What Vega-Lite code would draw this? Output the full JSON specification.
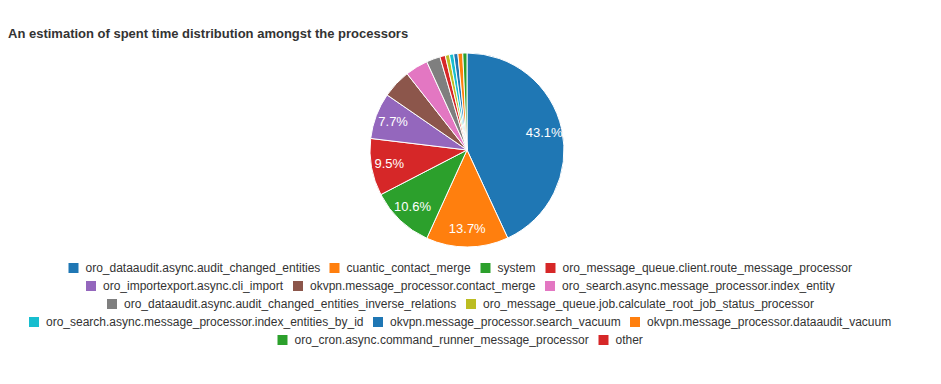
{
  "$schema": "https://vega.github.io/schema/vega-lite/v6.json",
  "width": 904,
  "height": 194,
  "padding": {"left": 8, "top": 28, "right": 0, "bottom": 12},
  "background": "white",
  "title": {
    "text": "An estimation of spent time distribution amongst the processors",
    "anchor": "start",
    "font": "Liberation Sans",
    "fontSize": 13,
    "fontWeight": "bold",
    "color": "#333333",
    "offset": 10
  },
  "data": {
    "values": [
      {"name": "oro_dataaudit.async.audit_changed_entities", "value": 0.431, "rank": 1},
      {"name": "cuantic_contact_merge", "value": 0.137, "rank": 2},
      {"name": "system", "value": 0.106, "rank": 3},
      {"name": "oro_message_queue.client.route_message_processor", "value": 0.095, "rank": 4},
      {"name": "oro_importexport.async.cli_import", "value": 0.077, "rank": 5},
      {"name": "okvpn.message_processor.contact_merge", "value": 0.048, "rank": 6},
      {"name": "oro_search.async.message_processor.index_entity", "value": 0.038, "rank": 7},
      {"name": "oro_dataaudit.async.audit_changed_entities_inverse_relations", "value": 0.023, "rank": 8},
      {"name": "other", "value": 0.009, "rank": 9},
      {"name": "oro_message_queue.job.calculate_root_job_status_processor", "value": 0.007, "rank": 10},
      {"name": "oro_search.async.message_processor.index_entities_by_id", "value": 0.007, "rank": 11},
      {"name": "okvpn.message_processor.search_vacuum", "value": 0.007, "rank": 12},
      {"name": "okvpn.message_processor.dataaudit_vacuum", "value": 0.008, "rank": 13},
      {"name": "oro_cron.async.command_runner_message_processor", "value": 0.007, "rank": 14}
    ]
  },
  "layer": [
    {
      "mark": {"type": "arc", "stroke": "white", "strokeWidth": 1, "xOffset": 7},
      "encoding": {
        "theta": {"field": "value", "type": "quantitative", "stack": true},
        "order": {"field": "rank", "type": "quantitative"},
        "color": {
          "field": "name",
          "type": "nominal",
          "legend": null,
          "scale": {
            "domain": [
              "oro_dataaudit.async.audit_changed_entities",
              "cuantic_contact_merge",
              "system",
              "oro_message_queue.client.route_message_processor",
              "oro_importexport.async.cli_import",
              "okvpn.message_processor.contact_merge",
              "oro_search.async.message_processor.index_entity",
              "oro_dataaudit.async.audit_changed_entities_inverse_relations",
              "oro_message_queue.job.calculate_root_job_status_processor",
              "oro_search.async.message_processor.index_entities_by_id",
              "okvpn.message_processor.search_vacuum",
              "okvpn.message_processor.dataaudit_vacuum",
              "oro_cron.async.command_runner_message_processor",
              "other"
            ],
            "range": ["#1f77b4", "#ff7f0e", "#2ca02c", "#d62728", "#9467bd", "#8c564b", "#e377c2", "#7f7f7f", "#bcbd22", "#17becf", "#1f77b4", "#ff7f0e", "#2ca02c", "#d62728"]
          }
        }
      }
    },
    {
      "mark": {"type": "text", "radius": 79, "xOffset": 7, "fill": "white", "font": "Liberation Sans", "fontSize": 13},
      "encoding": {
        "theta": {"field": "value", "type": "quantitative", "stack": true},
        "order": {"field": "rank", "type": "quantitative"},
        "text": {"condition": {"test": "datum.value < 0.05", "value": ""}, "field": "value", "type": "quantitative", "format": ".1%"}
      }
    },
    {
      "transform": [{"filter": {"field": "name", "oneOf": ["oro_dataaudit.async.audit_changed_entities", "cuantic_contact_merge", "system", "oro_message_queue.client.route_message_processor"]}}],
      "mark": {"type": "point", "filled": true, "opacity": 0},
      "encoding": {
        "color": {"field": "name", "type": "nominal",
          "scale": {"domain": ["oro_dataaudit.async.audit_changed_entities", "cuantic_contact_merge", "system", "oro_message_queue.client.route_message_processor"], "range": ["#1f77b4", "#ff7f0e", "#2ca02c", "#d62728"]},
          "legend": {"title": null, "orient": "bottom", "direction": "horizontal"}}
      }
    },
    {
      "transform": [{"filter": {"field": "name", "oneOf": ["oro_importexport.async.cli_import", "okvpn.message_processor.contact_merge", "oro_search.async.message_processor.index_entity"]}}],
      "mark": {"type": "point", "filled": true, "opacity": 0},
      "encoding": {
        "color": {"field": "name", "type": "nominal",
          "scale": {"domain": ["oro_importexport.async.cli_import", "okvpn.message_processor.contact_merge", "oro_search.async.message_processor.index_entity"], "range": ["#9467bd", "#8c564b", "#e377c2"]},
          "legend": {"title": null, "orient": "bottom", "direction": "horizontal"}}
      }
    },
    {
      "transform": [{"filter": {"field": "name", "oneOf": ["oro_dataaudit.async.audit_changed_entities_inverse_relations", "oro_message_queue.job.calculate_root_job_status_processor"]}}],
      "mark": {"type": "point", "filled": true, "opacity": 0},
      "encoding": {
        "color": {"field": "name", "type": "nominal",
          "scale": {"domain": ["oro_dataaudit.async.audit_changed_entities_inverse_relations", "oro_message_queue.job.calculate_root_job_status_processor"], "range": ["#7f7f7f", "#bcbd22"]},
          "legend": {"title": null, "orient": "bottom", "direction": "horizontal"}}
      }
    },
    {
      "transform": [{"filter": {"field": "name", "oneOf": ["oro_search.async.message_processor.index_entities_by_id", "okvpn.message_processor.search_vacuum", "okvpn.message_processor.dataaudit_vacuum"]}}],
      "mark": {"type": "point", "filled": true, "opacity": 0},
      "encoding": {
        "color": {"field": "name", "type": "nominal",
          "scale": {"domain": ["oro_search.async.message_processor.index_entities_by_id", "okvpn.message_processor.search_vacuum", "okvpn.message_processor.dataaudit_vacuum"], "range": ["#17becf", "#1f77b4", "#ff7f0e"]},
          "legend": {"title": null, "orient": "bottom", "direction": "horizontal"}}
      }
    },
    {
      "transform": [{"filter": {"field": "name", "oneOf": ["oro_cron.async.command_runner_message_processor", "other"]}}],
      "mark": {"type": "point", "filled": true, "opacity": 0},
      "encoding": {
        "color": {"field": "name", "type": "nominal",
          "scale": {"domain": ["oro_cron.async.command_runner_message_processor", "other"], "range": ["#2ca02c", "#d62728"]},
          "legend": {"title": null, "orient": "bottom", "direction": "horizontal"}}
      }
    }
  ],
  "resolve": {"scale": {"color": "independent"}, "legend": {"color": "independent"}},
  "config": {
    "view": {"stroke": null},
    "legend": {
      "symbolType": "square",
      "symbolSize": 100,
      "symbolOpacity": 1,
      "symbolStrokeWidth": 0,
      "labelFont": "Liberation Sans",
      "labelFontSize": 12,
      "labelColor": "#333333",
      "labelLimit": 600,
      "labelOffset": 6,
      "columnPadding": 8,
      "offset": 15,
      "layout": {"bottom": {"anchor": "middle", "direction": "vertical", "center": true, "margin": 6, "offset": 15}}
    }
  }
}
